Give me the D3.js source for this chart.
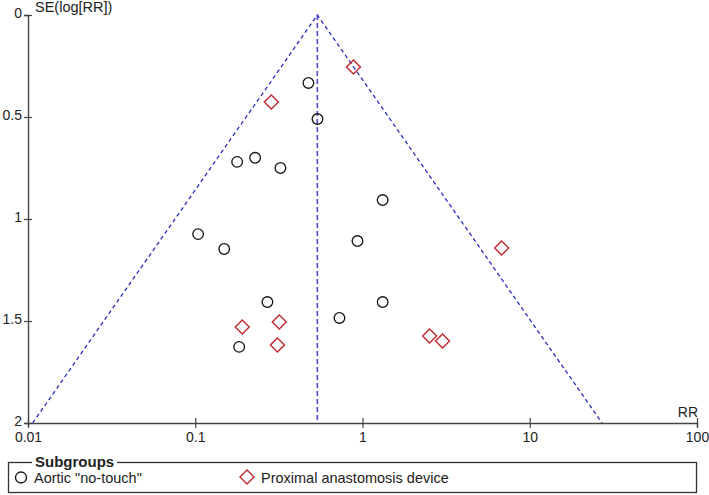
<!DOCTYPE html>
<html>
<head>
<meta charset="utf-8">
<script src="https://cdn.jsdelivr.net/npm/d3@7"></script>
<style>
  body { margin: 0; background: #fff; }
  text { font-family: "Liberation Sans", Arial, sans-serif; fill: #222; }
</style>
</head>
<body>
<div class="chart"></div>
<script>
// FUNNEL PLOT - RR vs SE(log[RR])
const noTouchRR = [0.475, 0.538, 0.178, 0.228, 0.323, 1.32, 0.104, 0.149, 0.933, 0.27, 0.183, 0.728, 1.32];
const noTouchSE = [0.333, 0.51, 0.72, 0.70, 0.75, 0.907, 1.074, 1.147, 1.108, 1.407, 1.627, 1.485, 1.407];
const deviceRR = [0.883, 0.285, 0.318, 0.191, 0.31, 6.79, 2.52, 3.01];
const deviceSE = [0.255, 0.426, 1.505, 1.529, 1.618, 1.142, 1.574, 1.598];
const pooledRR = 0.537;
const xTicks = [0.01, 0.1, 1, 10, 100];
const yTicks = [0, 0.5, 1, 1.5, 2];
const seriesNames = ['Aortic "no-touch"', 'Proximal anastomosis device'];

const W = 709, H = 495;
const margin = { top: 15, right: 12, bottom: 72, left: 28 };
const width = W - margin.left - margin.right;
const height = H - margin.top - margin.bottom;

const svg = d3.select('.chart')
  .append('svg')
    .attr('width', W)
    .attr('height', H)
  .append('g')
    .attr('transform', `translate(${margin.left}, ${margin.top})`);

const xScale = d3.scaleLog().domain([0.01, 100]).range([0, width]);
const yScale = d3.scaleLinear().domain([0, 2]).range([0, height]);

// funnel lines (95% limits) + pooled estimate
const blue = '#2b2bc4';
const seMax = 2;
const lo = Math.exp(Math.log(pooledRR) - 1.96 * seMax);
const hi = Math.exp(Math.log(pooledRR) + 1.96 * seMax);
const funnel = [[lo, seMax], [pooledRR, 0], [hi, seMax]];
svg.append('path')
  .attr('d', d3.line().x(d => xScale(d[0])).y(d => yScale(d[1]))(funnel))
  .attr('fill', 'none')
  .attr('stroke', blue)
  .attr('stroke-width', 1.3)
  .attr('stroke-dasharray', '4,3');
svg.append('line')
  .attr('x1', xScale(pooledRR)).attr('x2', xScale(pooledRR))
  .attr('y1', yScale(0)).attr('y2', yScale(2))
  .attr('stroke', '#4a4ad0')
  .attr('stroke-width', 1.6)
  .attr('stroke-dasharray', '5,3');

// axes
const xAxis = d3.axisBottom(xScale).tickValues(xTicks).tickFormat(d3.format('')).tickSize(4).tickPadding(3);
const yAxis = d3.axisLeft(yScale).tickValues(yTicks).tickFormat(d => d).tickSize(4).tickPadding(3);

const gx = svg.append('g').attr('transform', `translate(0, ${height})`).call(xAxis);
const gy = svg.append('g').call(yAxis);
[gx, gy].forEach(g => {
  g.select('.domain').attr('stroke', '#444').attr('stroke-width', 1.4);
  g.selectAll('.tick line').attr('stroke', '#444').attr('stroke-width', 1.2);
  g.selectAll('.tick text').style('font-size', '14px').attr('fill', '#222');
});
gx.selectAll('.tick line').attr('y1', -5).attr('y2', 5);
gx.selectAll('.tick text').attr('y', 9);
gy.selectAll('.tick line').attr('x1', 4).attr('x2', -4);
gy.selectAll('.tick text').attr('x', -6).attr('dy', '0.2em');

svg.append('text')
  .attr('x', 7).attr('y', -3)
  .style('font-size', '14.5px')
  .text('SE(log[RR])');
svg.append('text')
  .attr('x', width + 1).attr('y', height - 6)
  .style('text-anchor', 'end')
  .style('font-size', '14px')
  .text('RR');

// points
const red = '#c0272d';
const noTouch = noTouchRR.map((v, i) => ({ rr: v, se: noTouchSE[i] }));
const device = deviceRR.map((v, i) => ({ rr: v, se: deviceSE[i] }));

svg.selectAll('.circ')
  .data(noTouch)
  .enter()
  .append('circle')
    .attr('class', 'circ')
    .attr('cx', d => xScale(d.rr))
    .attr('cy', d => yScale(d.se))
    .attr('r', 5.3)
    .attr('fill', 'none')
    .attr('stroke', '#111')
    .attr('stroke-width', 1.3);

const diamond = 'M0,-7L7,0L0,7L-7,0Z';
svg.selectAll('.diam')
  .data(device)
  .enter()
  .append('path')
    .attr('class', 'diam')
    .attr('d', diamond)
    .attr('transform', d => `translate(${xScale(d.rr)}, ${yScale(d.se)})`)
    .attr('fill', 'none')
    .attr('stroke', red)
    .attr('stroke-width', 1.4);

// legend
const root = d3.select('svg');
const lg = root.append('g');
lg.append('rect')
  .attr('x', 8.5).attr('y', 462.5)
  .attr('width', 688).attr('height', 30)
  .attr('fill', 'none')
  .attr('stroke', '#333')
  .attr('stroke-width', 1.3);
lg.append('rect')
  .attr('x', 32).attr('y', 455)
  .attr('width', 85).attr('height', 14)
  .attr('fill', '#fff');
lg.append('text')
  .attr('x', 35).attr('y', 467)
  .style('font-size', '15px')
  .style('font-weight', 'bold')
  .text('Subgroups');
lg.append('circle')
  .attr('cx', 21).attr('cy', 477.5).attr('r', 5.5)
  .attr('fill', 'none').attr('stroke', '#111').attr('stroke-width', 1.3);
lg.append('text')
  .attr('x', 34).attr('y', 482.5)
  .style('font-size', '14.5px')
  .text(seriesNames[0]);
lg.append('path')
  .attr('d', diamond)
  .attr('transform', 'translate(247, 477)')
  .attr('fill', 'none').attr('stroke', red).attr('stroke-width', 1.4);
lg.append('text')
  .attr('x', 261).attr('y', 482.5)
  .style('font-size', '14.5px')
  .text(seriesNames[1]);
</script>
</body>
</html>
